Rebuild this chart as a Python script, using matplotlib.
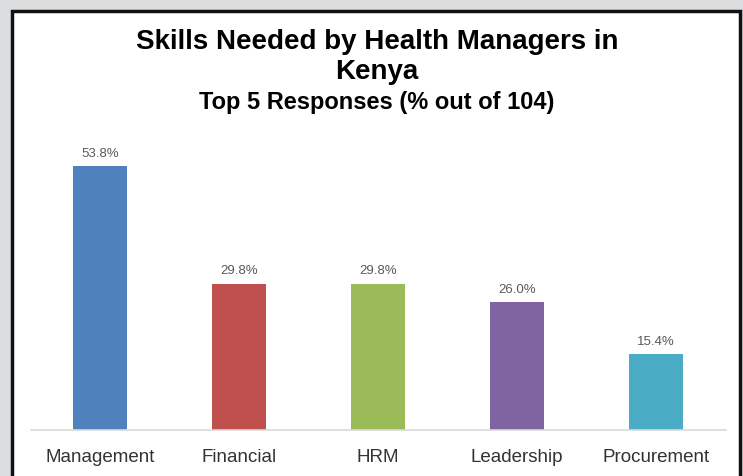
import matplotlib.pyplot as plt
from matplotlib.patches import Rectangle

categories = ["Management", "Financial", "HRM", "Leadership", "Procurement"]
percent = [53.8, 29.8, 29.8, 26.0, 15.4]
bar_colors = ["#4F81BD", "#C0504D", "#9BBB59", "#8064A2", "#4BACC6"]

plt.rcParams["font.family"] = ["Liberation Sans", "DejaVu Sans"]

W, H = 743, 476
fig = plt.figure(figsize=(W / 100, H / 100), dpi=100)
fig.patch.set_facecolor("#dcdddf")

# white panel with dark frame
panel = Rectangle((12 / W, -0.05), (740 - 12) / W, (H - 11) / H + 0.05,
                  transform=fig.transFigure, facecolor="white",
                  edgecolor="#111111", linewidth=2.5, zorder=-5)
fig.patches.append(panel)

ax = fig.add_axes([30.5 / W, 1 - 430 / H, (725.5 - 30.5) / W, (430 - 135.6) / H])
ax.set_zorder(2)
ax.set_facecolor("none")
x = range(len(categories))
bars = ax.bar(x, percent, width=0.39, color=bar_colors, zorder=2)
for xi, v in zip(x, percent):
    ax.text(xi, v + 1.3, f"{v:.1f}%", ha="center", va="bottom",
            fontsize=9.5, color="#595959")

ax.set_xlim(-0.5, 4.5)
ax.set_ylim(0, 60)
ax.set_yticks([])
ax.set_xticks(list(x))
ax.set_xticklabels(categories, fontsize=13.5, color="#333333")
ax.tick_params(axis="x", length=0, pad=14)
for s in ["top", "left", "right"]:
    ax.spines[s].set_visible(False)
ax.spines["bottom"].set_color("#d9d9d9")
ax.spines["bottom"].set_linewidth(1.2)

fig.text(377 / W, 1 - 42 / H, "Skills Needed by Health Managers in",
         ha="center", va="center", fontsize=20, fontweight="bold")
fig.text(377 / W, 1 - 72 / H, "Kenya", ha="center", va="center",
         fontsize=20, fontweight="bold")
fig.text(377 / W, 1 - 103 / H, "Top 5 Responses (% out of 104)",
         ha="center", va="center", fontsize=17, fontweight="bold")

fig.savefig("out.png", dpi=100, facecolor=fig.get_facecolor())
